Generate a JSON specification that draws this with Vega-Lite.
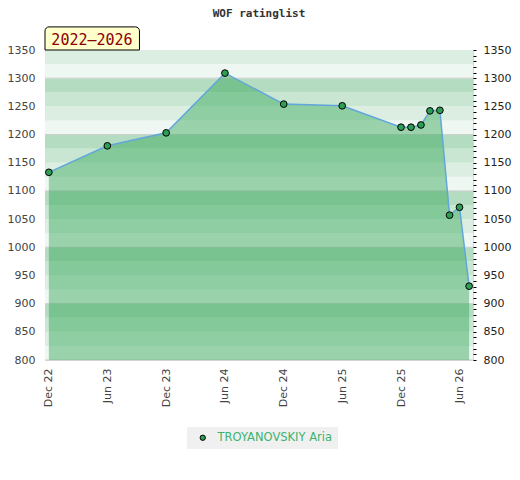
{
  "$schema": "https://vega.github.io/schema/vega-lite/v6.json",
  "autosize": {"type": "none"},
  "padding": {"left": 45, "top": 50, "right": 47, "bottom": 120},
  "width": 428,
  "height": 310,
  "background": "white",
  "title": {
    "text": "WOF ratinglist",
    "font": "DejaVu Sans Mono",
    "fontSize": 11,
    "fontWeight": "bold",
    "color": "#333333",
    "anchor": "middle",
    "offset": 7
  },
  "config": {
    "view": {"stroke": "#d6d6d6"},
    "font": "DejaVu Sans"
  },
  "datasets": {
    "bands": [
      {"lo": 800, "hi": 825, "shade": "a"},
      {"lo": 825, "hi": 850, "shade": "b"},
      {"lo": 850, "hi": 875, "shade": "c"},
      {"lo": 875, "hi": 900, "shade": "d"},
      {"lo": 900, "hi": 925, "shade": "a"},
      {"lo": 925, "hi": 950, "shade": "b"},
      {"lo": 950, "hi": 975, "shade": "c"},
      {"lo": 975, "hi": 1000, "shade": "d"},
      {"lo": 1000, "hi": 1025, "shade": "a"},
      {"lo": 1025, "hi": 1050, "shade": "b"},
      {"lo": 1050, "hi": 1075, "shade": "c"},
      {"lo": 1075, "hi": 1100, "shade": "d"},
      {"lo": 1100, "hi": 1125, "shade": "a"},
      {"lo": 1125, "hi": 1150, "shade": "b"},
      {"lo": 1150, "hi": 1175, "shade": "c"},
      {"lo": 1175, "hi": 1200, "shade": "d"},
      {"lo": 1200, "hi": 1225, "shade": "a"},
      {"lo": 1225, "hi": 1250, "shade": "b"},
      {"lo": 1250, "hi": 1275, "shade": "c"},
      {"lo": 1275, "hi": 1300, "shade": "d"},
      {"lo": 1300, "hi": 1325, "shade": "a"},
      {"lo": 1325, "hi": 1350, "shade": "b"}
    ],
    "ratings": [
      {"date": "2022-12-01", "rating": 1133, "player": "TROYANOVSKIY Aria"},
      {"date": "2023-06-01", "rating": 1180, "player": "TROYANOVSKIY Aria"},
      {"date": "2023-12-01", "rating": 1203, "player": "TROYANOVSKIY Aria"},
      {"date": "2024-06-01", "rating": 1309, "player": "TROYANOVSKIY Aria"},
      {"date": "2024-12-01", "rating": 1254, "player": "TROYANOVSKIY Aria"},
      {"date": "2025-06-01", "rating": 1251, "player": "TROYANOVSKIY Aria"},
      {"date": "2025-12-01", "rating": 1213, "player": "TROYANOVSKIY Aria"},
      {"date": "2026-01-01", "rating": 1213, "player": "TROYANOVSKIY Aria"},
      {"date": "2026-02-01", "rating": 1217, "player": "TROYANOVSKIY Aria"},
      {"date": "2026-03-01", "rating": 1242, "player": "TROYANOVSKIY Aria"},
      {"date": "2026-04-01", "rating": 1243, "player": "TROYANOVSKIY Aria"},
      {"date": "2026-05-01", "rating": 1057, "player": "TROYANOVSKIY Aria"},
      {"date": "2026-06-01", "rating": 1071, "player": "TROYANOVSKIY Aria"},
      {"date": "2026-07-01", "rating": 931, "player": "TROYANOVSKIY Aria"}
    ],
    "period": [{"label": "2022–2026"}]
  },
  "resolve": {"axis": {"y": "independent"}},
  "layer": [
    {
      "data": {"name": "bands"},
      "mark": {"type": "rect"},
      "encoding": {
        "y": {
          "field": "lo",
          "type": "quantitative",
          "scale": {"domain": [800, 1350], "nice": false, "zero": false},
          "axis": {
            "orient": "left",
            "title": null,
            "format": "d",
            "values": [800, 850, 900, 950, 1000, 1050, 1100, 1150, 1200, 1250, 1300, 1350],
            "ticks": false,
            "domain": false,
            "grid": false,
            "labelPadding": 10,
            "labelFontSize": 11,
            "labelColor": "#444444",
            "labelFlush": false,
            "labelOverlap": false
          }
        },
        "y2": {"field": "hi"},
        "color": {
          "field": "shade",
          "type": "nominal",
          "scale": {
            "domain": ["a", "b", "c", "d"],
            "range": ["#eff7f2", "#dcede2", "#c8e6d1", "#b4dcc0"]
          },
          "legend": null
        }
      }
    },
    {
      "data": {"name": "bands"},
      "transform": [{"filter": "datum.shade === 'a'"}],
      "mark": {"type": "rule", "color": "#cfcfcf", "strokeWidth": 1},
      "encoding": {
        "y": {"field": "lo", "type": "quantitative", "axis": null}
      }
    },
    {
      "data": {"name": "ratings"},
      "mark": {"type": "area", "color": "#2ea353", "opacity": 0.44},
      "encoding": {
        "x": {
          "field": "date",
          "type": "temporal",
          "scale": {
            "type": "utc",
            "domain": [
              {"year": 2022, "month": 11, "date": 19, "utc": true},
              {"year": 2026, "month": 7, "date": 13, "utc": true}
            ]
          },
          "axis": {
            "title": null,
            "values": [
              {"year": 2022, "month": 12, "date": 1, "utc": true},
              {"year": 2023, "month": 6, "date": 1, "utc": true},
              {"year": 2023, "month": 12, "date": 1, "utc": true},
              {"year": 2024, "month": 6, "date": 1, "utc": true},
              {"year": 2024, "month": 12, "date": 1, "utc": true},
              {"year": 2025, "month": 6, "date": 1, "utc": true},
              {"year": 2025, "month": 12, "date": 1, "utc": true},
              {"year": 2026, "month": 6, "date": 1, "utc": true}
            ],
            "format": "%b %y",
            "labelAngle": 270,
            "labelAlign": "right",
            "labelBaseline": "middle",
            "labelPadding": 8,
            "labelFontSize": 11,
            "labelColor": "#444444",
            "ticks": false,
            "domain": false,
            "grid": false,
            "labelOverlap": false,
            "labelFlush": false
          }
        },
        "y": {
          "field": "rating",
          "type": "quantitative",
          "axis": {
            "orient": "right",
            "title": null,
            "values": [800, 810, 820, 830, 840, 850, 860, 870, 880, 890, 900, 910, 920, 930, 940, 950, 960, 970, 980, 990, 1000, 1010, 1020, 1030, 1040, 1050, 1060, 1070, 1080, 1090, 1100, 1110, 1120, 1130, 1140, 1150, 1160, 1170, 1180, 1190, 1200, 1210, 1220, 1230, 1240, 1250, 1260, 1270, 1280, 1290, 1300, 1310, 1320, 1330, 1340, 1350],
            "labelExpr": "datum.value % 50 === 0 ? format(datum.value, 'd') : ''",
            "tickSize": 3,
            "tickColor": "#000000",
            "domain": false,
            "grid": false,
            "labelPadding": 7,
            "labelFontSize": 11,
            "labelColor": "#222222",
            "labelFlush": false,
            "labelOverlap": false
          }
        },
        "y2": {"datum": 800}
      }
    },
    {
      "data": {"name": "ratings"},
      "transform": [{"filter": {"field": "date", "oneOf": ["2022-12-01", "2026-07-01"]}}],
      "mark": {"type": "rule", "color": "#2e9e50", "strokeWidth": 1},
      "encoding": {
        "x": {"field": "date", "type": "temporal"},
        "y": {"field": "rating", "type": "quantitative", "axis": null},
        "y2": {"datum": 800}
      }
    },
    {
      "data": {"name": "ratings"},
      "mark": {"type": "line", "color": "#62a6dc", "strokeWidth": 1.5},
      "encoding": {
        "x": {"field": "date", "type": "temporal"},
        "y": {"field": "rating", "type": "quantitative", "axis": null}
      }
    },
    {
      "data": {"name": "ratings"},
      "mark": {"type": "point", "shape": "circle", "filled": true, "opacity": 1, "stroke": "#000000", "strokeWidth": 1, "size": 45},
      "encoding": {
        "x": {"field": "date", "type": "temporal"},
        "y": {"field": "rating", "type": "quantitative", "axis": null},
        "fill": {
          "field": "player",
          "type": "nominal",
          "scale": {"range": ["#2e9e55"]},
          "legend": {
            "orient": "none",
            "legendX": 142,
            "legendY": 377,
            "direction": "horizontal",
            "title": null,
            "fillColor": "#f0f0f0",
            "padding": 5,
            "labelColor": "#3cb371",
            "labelFontSize": 11.5,
            "labelFont": "DejaVu Sans",
            "labelOffset": 9,
            "symbolOffset": 5,
            "symbolType": "circle",
            "symbolSize": 28,
            "symbolStrokeColor": "#000000",
            "symbolStrokeWidth": 1
          }
        }
      }
    },
    {
      "data": {"name": "period"},
      "mark": {"type": "rect", "fill": "#ffffcc", "stroke": "#000000", "strokeWidth": 1, "cornerRadiusTopLeft": 4, "cornerRadiusTopRight": 4},
      "encoding": {
        "x": {"datum": {"year": 2022, "month": 11, "date": 19, "utc": true}, "type": "temporal"},
        "x2": {"datum": {"year": 2023, "month": 9, "date": 9, "utc": true}},
        "y": {"datum": 1350, "type": "quantitative", "axis": null},
        "y2": {"datum": 1391}
      }
    },
    {
      "data": {"name": "period"},
      "mark": {"type": "text", "font": "DejaVu Sans Mono", "fontSize": 15, "color": "#8b0000", "align": "center", "baseline": "alphabetic", "dx": 47, "dy": -5},
      "encoding": {
        "x": {"datum": {"year": 2022, "month": 11, "date": 19, "utc": true}, "type": "temporal"},
        "y": {"datum": 1350, "type": "quantitative", "axis": null},
        "text": {"field": "label"}
      }
    }
  ]
}
